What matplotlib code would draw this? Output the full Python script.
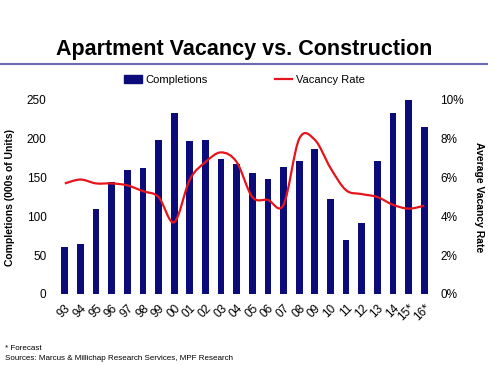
import numpy as np
import matplotlib
matplotlib.use("Agg")
from matplotlib import pyplot as plt
from matplotlib.path import Path
from matplotlib.patches import PathPatch
from matplotlib.lines import Line2D
from matplotlib.ticker import FuncFormatter

plt.rcParams['font.family'] = ['Liberation Sans', 'DejaVu Sans']

years = ['93', '94', '95', '96', '97', '98', '99', '00', '01', '02', '03', '04',
         '05', '06', '07', '08', '09', '10', '11', '12', '13', '14', '15*', '16*']
completions = [60, 65, 110, 144, 160, 163, 198, 233, 197, 198, 174, 168,
               156, 148, 164, 171, 187, 123, 70, 92, 172, 233, 250, 215]
vacancy = [5.7, 5.9, 5.7, 5.7, 5.6, 5.3, 5.0, 3.7, 5.9, 6.8, 7.3, 6.8,
           5.0, 4.85, 4.6, 8.0, 7.95, 6.5, 5.35, 5.15, 5.0, 4.6, 4.4, 4.55]

bar_color = '#0b0b7a'
line_color = '#e8141c'

fig = plt.figure(figsize=(4.89, 3.66), dpi=100)
ax = fig.add_axes([57 / 489, 1 - 294 / 366, 375 / 489, 194 / 366])
ax2 = ax.twinx()

x = np.arange(len(years))
ax.bar(x, completions, width=0.43, color=bar_color, zorder=2)
ax.set_xlim(-0.5, len(years) - 0.5)
ax.set_ylim(0, 250)
ax.set_yticks([0, 50, 100, 150, 200, 250])
ax.set_xticks(x)
ax.set_xticklabels(years, rotation=45, fontsize=8, ha='right', va='top',
                   rotation_mode='anchor')
ax.tick_params(length=0, labelsize=8.5, pad=7.5)
ax.tick_params(axis='x', pad=6)
for s in ax.spines.values():
    s.set_visible(False)
for s in ax2.spines.values():
    s.set_visible(False)

# smoothed line (Catmull-Rom -> bezier) like the Excel smoothed series
xs = x.astype(float)
ys = np.array(vacancy, dtype=float)
verts = [(xs[0], ys[0])]
codes = [Path.MOVETO]
for i in range(len(xs) - 1):
    p0 = (xs[i - 1], ys[i - 1]) if i > 0 else (xs[i], ys[i])
    p1 = (xs[i], ys[i])
    p2 = (xs[i + 1], ys[i + 1])
    p3 = (xs[i + 2], ys[i + 2]) if i + 2 < len(xs) else p2
    c1 = (p1[0] + (p2[0] - p0[0]) / 6, p1[1] + (p2[1] - p0[1]) / 6)
    c2 = (p2[0] - (p3[0] - p1[0]) / 6, p2[1] - (p3[1] - p1[1]) / 6)
    verts += [c1, c2, p2]
    codes += [Path.CURVE4] * 3
ax2.add_patch(PathPatch(Path(verts, codes), facecolor='none',
                        edgecolor=line_color, lw=1.6, zorder=3))
ax2.set_ylim(0, 10)
ax2.set_yticks([0, 2, 4, 6, 8, 10])
ax2.yaxis.set_major_formatter(FuncFormatter(lambda v, p: '%d%%' % v))
ax2.tick_params(length=0, labelsize=8.5, pad=6)

fig.text(10 / 489, 1 - 197 / 366, 'Completions (000s of Units)', rotation=90,
         fontsize=7.5, fontweight='bold', ha='center', va='center')
fig.text(479 / 489, 1 - 197 / 366, 'Average Vacancy Rate', rotation=-90,
         fontsize=7.5, fontweight='bold', ha='center', va='center')

fig.text(0.5, 1 - 49 / 366, 'Apartment Vacancy vs. Construction',
         fontsize=15.5, fontweight='bold', ha='center', va='center')
fig.add_artist(Line2D([0, 1], [1 - 64 / 366, 1 - 64 / 366],
                      color='#6a6aae', lw=1.5, transform=fig.transFigure))

handles = [plt.Rectangle((0, 0), 1, 1, color=bar_color),
           Line2D([], [], color=line_color, lw=1.6)]
fig.legend(handles, ['Completions', 'Vacancy Rate'], loc='center',
           bbox_to_anchor=(0.5, 1 - 80 / 366), ncol=2, frameon=False,
           fontsize=8, columnspacing=6, handlelength=1.6, handletextpad=0.3)

fig.text(5 / 489, 1 - 349 / 366, '* Forecast', fontsize=5.8, va='center')
fig.text(5 / 489, 1 - 359 / 366,
         'Sources: Marcus & Millichap Research Services, MPF Research',
         fontsize=5.8, va='center')

fig.savefig('out.png', dpi=100)
